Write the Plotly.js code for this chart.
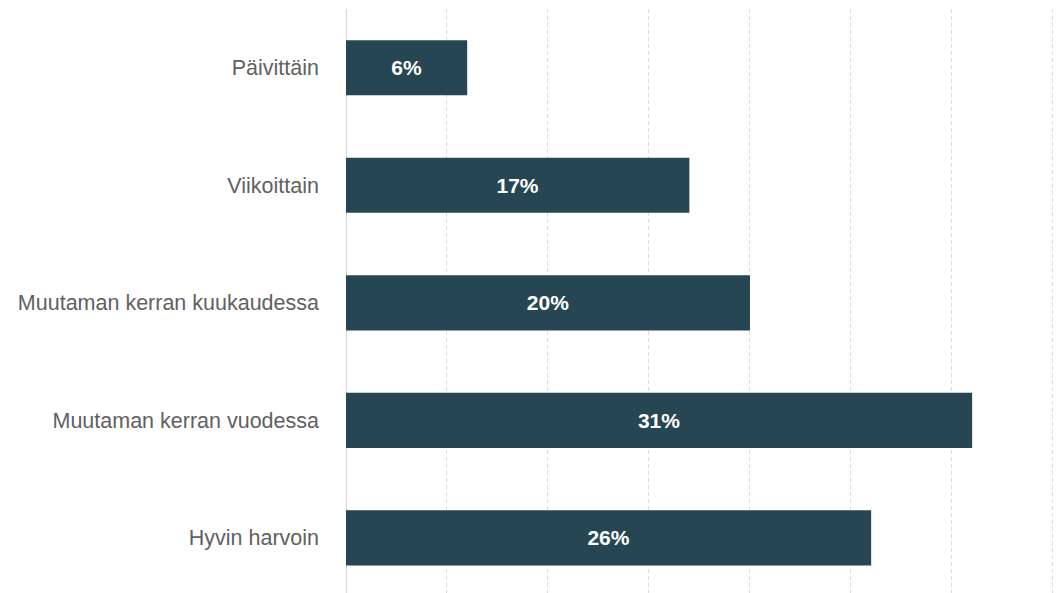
<!DOCTYPE html>
<html>
<head>
<meta charset="utf-8">
<script src="https://cdn.plot.ly/plotly-3.0.1.min.js"></script>
<style>html,body{margin:0;padding:0;background:#fff;}#chart{width:1059px;height:593px;}</style>
</head>
<body>
<div id="chart"></div>
<script>
const categories = ["Päivittäin", "Viikoittain", "Muutaman kerran kuukaudessa", "Muutaman kerran vuodessa", "Hyvin harvoin"];
const values = [6, 17, 20, 31, 26];
const valueLabels = values.map(v => v + "%");

const trace = {
  type: "bar",
  orientation: "h",
  y: categories,
  x: values,
  text: valueLabels,
  textposition: "inside",
  insidetextanchor: "middle",
  textfont: {family: "Liberation Sans, Arial, sans-serif", size: 21, color: "#ffffff", weight: "bold"},
  marker: {color: "#264653", line: {width: 0}},
  width: 0.47,
  hoverinfo: "skip"
};

const layout = {
  width: 1059,
  height: 593,
  margin: {l: 346, r: 0, t: 9, b: 0},
  paper_bgcolor: "#ffffff",
  plot_bgcolor: "#ffffff",
  showlegend: false,
  xaxis: {
    range: [0, 35.3],
    dtick: 5,
    showgrid: true,
    gridcolor: "#dcdcdc",
    griddash: "4px,3px",
    gridwidth: 1,
    zeroline: true,
    zerolinecolor: "#d6d6d6",
    zerolinewidth: 1,
    showticklabels: false,
    ticks: "",
    showline: false
  },
  yaxis: {
    type: "category",
    range: [4.47, -0.5],
    showgrid: false,
    zeroline: false,
    showline: false,
    ticks: "",
    ticklabelstandoff: 26,
    tickfont: {family: "Liberation Sans, Arial, sans-serif", size: 21.5, color: "#616161"}
  }
};

Plotly.newPlot("chart", [trace], layout, {displayModeBar: false, staticPlot: true});
</script>
</body>
</html>
